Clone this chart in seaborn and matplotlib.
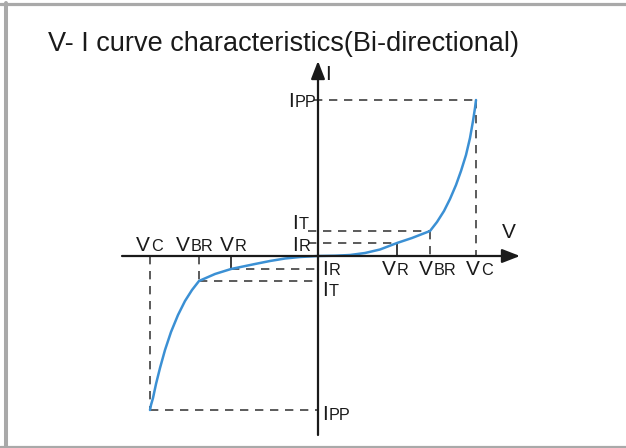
import numpy as np
import pandas as pd
import matplotlib.pyplot as plt
from matplotlib.lines import Line2D
import seaborn as sns

sns.set_theme(style="white")
plt.rcParams['font.family'] = ['Liberation Sans', 'DejaVu Sans']

# curve points (V right, I up; origin where the axes cross)
v_right = [0, 17, 32, 47, 62, 79, 94, 112, 119, 126, 132, 138, 143, 148, 152, 155, 157, 158]
i_right = [0, 0.3, 1, 3, 6.5, 13, 18, 25, 34, 45, 57, 71, 85, 101, 118, 135, 148, 156]
v_left = [0, -18, -33, -48, -63, -87, -103, -119, -126, -133, -140, -147, -153, -158, -162, -165, -167, -168]
i_left = [0, -1, -2.5, -5, -8, -13, -18, -25, -34, -45, -59, -76, -94, -112, -128, -142, -149, -154]

# marked levels
VR, VBR, VC = 79, 112, 158
IR, IT, IPP = 13, 25, 156
VR_n, VBR_n, VC_n = -87, -119, -168
IR_n, IT_n, IPP_n = -13, -25, -154

curve = pd.DataFrame({
    "V": v_left[::-1] + v_right[1:],
    "I": i_left[::-1] + i_right[1:],
})

W, H = 626, 448
fig = plt.figure(figsize=(W / 100, H / 100), dpi=100)
ax = fig.add_axes([0, 0, 1, 1])
ax.set_xlim(-318, W - 318)
ax.set_ylim(256 - H, 256)
ax.axis("off")

# frame (gray, open on the right)
gray = "#a9a9a9"
fig.add_artist(Line2D([0, 1], [1 - 4.5 / H, 1 - 4.5 / H], color=gray, lw=2.3, transform=fig.transFigure))
fig.add_artist(Line2D([6 / W, 6 / W], [0, 1 - 3 / H], color=gray, lw=2.9, transform=fig.transFigure))
fig.add_artist(Line2D([0, 1], [0.7 / H, 0.7 / H], color=gray, lw=2.3, transform=fig.transFigure))

# axes with arrows
k = "#1a1a1a"
ax.annotate("", xy=(202, 0), xytext=(-196, 0),
            arrowprops=dict(arrowstyle="-|>,head_length=0.9,head_width=0.35", color=k, lw=1.6, shrinkA=0, shrinkB=0))
ax.annotate("", xy=(0, 195), xytext=(0, -179),
            arrowprops=dict(arrowstyle="-|>,head_length=0.9,head_width=0.35", color=k, lw=1.6, shrinkA=0, shrinkB=0))

# guide lines
dk = "#404040"
ds = dict(color=dk, lw=1.2, linestyle=(0, (5, 4)))
ax.plot([-4, VC], [IPP, IPP], **ds)
ax.plot([VC, VC], [IPP, 0], **ds)
ax.plot([-10, VBR], [IT, IT], **ds)
ax.plot([VBR, VBR], [IT, 0], **ds)
ax.plot([-10, VR], [IR, IR], **ds)
ax.plot([VR, VR], [IR, 0], color=k, lw=1.2)
ax.plot([VC_n, 0], [IPP_n, IPP_n], **ds)
ax.plot([VC_n, VC_n], [0, IPP_n], **ds)
ax.plot([VBR_n, 0], [IT_n, IT_n], **ds)
ax.plot([VBR_n, VBR_n], [0, IT_n], **ds)
ax.plot([VR_n, 0], [IR_n, IR_n], **ds)
ax.plot([VR_n, VR_n], [0, IR_n], color=k, lw=1.2)

# the curve
sns.lineplot(data=curve, x="V", y="I", sort=False, color="#3b90d4", lw=1.8, ax=ax)


def label(px, py, main, sub="", size=15):
    t = ax.text(px - 318, 256 - py, main, fontsize=size, color=k, ha="left", va="baseline")
    if sub:
        ax.annotate(sub, xy=(1, 0), xycoords=t, xytext=(0.8, 0.6), textcoords="offset points",
                    fontsize=size * 0.78, color=k, ha="left", va="bottom")


ax.text(-270, 256 - 51, "V- I curve characteristics(Bi-directional)", fontsize=19.5, color=k,
        ha="left", va="baseline")
label(502, 238, "V")
label(325, 80, "I")
label(288, 107, "I", "PP")
label(322, 420, "I", "PP")
label(292, 229, "I", "T")
label(292, 251, "I", "R")
label(322, 275, "I", "R")
label(322, 296, "I", "T")
label(136, 251, "V", "C")
label(176, 251, "V", "BR")
label(220, 251, "V", "R")
label(382, 275, "V", "R")
label(419, 275, "V", "BR")
label(466, 275, "V", "C")

fig.savefig("out.png", dpi=100)
